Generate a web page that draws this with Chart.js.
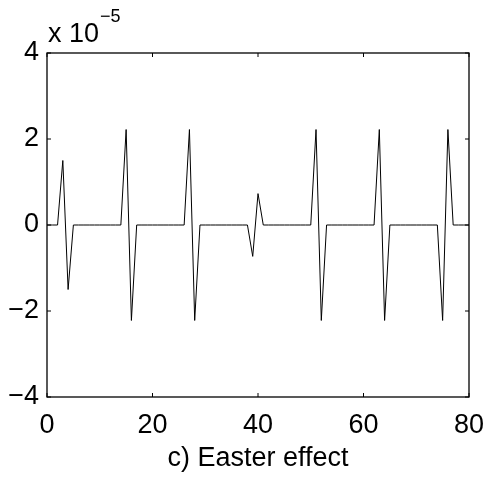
<!DOCTYPE html>
<html>
<head>
<meta charset="utf-8">
<script src="https://cdn.jsdelivr.net/npm/chart.js@4"></script>
<style>
  html, body { margin: 0; padding: 0; background: #fff; }
  #wrap { width: 487px; height: 481px; position: relative; }
</style>
</head>
<body>
<div id="wrap"><canvas id="easterChart"></canvas></div>
<script>
// Easter effect, monthly, values in units of 10^-5
const easterEffectE5 = [
  0, 0, 0, 1.5, -1.5, 0, 0, 0, 0, 0, 0, 0, 0, 0,
  0, 2.22, -2.22, 0, 0, 0, 0, 0, 0, 0, 0, 0,
  0, 2.22, -2.22, 0, 0, 0, 0, 0, 0, 0, 0, 0,
  0, -0.73, 0.73, 0, 0, 0, 0, 0, 0, 0, 0, 0,
  0, 2.22, -2.22, 0, 0, 0, 0, 0, 0, 0, 0, 0,
  0, 2.22, -2.22, 0, 0, 0, 0, 0, 0, 0, 0, 0,
  0, -2.22, 2.22, 0, 0, 0, 0
];
const xTicks = [0, 20, 40, 60, 80];
const yTicks = [-4, -2, 0, 2, 4];
const xLabel = "c) Easter effect";

const FONT = "'Liberation Sans', Arial, Helvetica, sans-serif";

// MATLAB-like box with inward ticks and the exponent label
const boxPlugin = {
  id: "box",
  afterDraw(chart) {
    const ctx = chart.ctx;
    const a = chart.chartArea;
    const xs = chart.scales.x;
    const ys = chart.scales.y;
    const tl = 4;
    ctx.save();
    ctx.strokeStyle = "#000";
    ctx.lineWidth = 1.3;
    ctx.strokeRect(a.left, a.top, a.right - a.left, a.bottom - a.top);
    ctx.lineWidth = 1;
    ctx.beginPath();
    xTicks.forEach(v => {
      const px = xs.getPixelForValue(v);
      ctx.moveTo(px, a.bottom); ctx.lineTo(px, a.bottom - tl);
      ctx.moveTo(px, a.top); ctx.lineTo(px, a.top + tl);
    });
    yTicks.forEach(v => {
      const py = ys.getPixelForValue(v);
      ctx.moveTo(a.left, py); ctx.lineTo(a.left + tl, py);
      ctx.moveTo(a.right, py); ctx.lineTo(a.right - tl, py);
    });
    ctx.stroke();

    ctx.fillStyle = "#000";
    ctx.textBaseline = "alphabetic";
    ctx.textAlign = "left";
    ctx.font = "27px " + FONT;
    ctx.fillText("x 10", a.left + 1, a.top - 11);
    const w = ctx.measureText("x 10").width;
    ctx.font = "18px " + FONT;
    ctx.fillText("\u22125", a.left + 1 + w + 1, a.top - 31);
    ctx.restore();
  }
};

new Chart(document.getElementById("easterChart"), {
  type: "line",
  data: {
    datasets: [{
      data: easterEffectE5.map((v, i) => ({ x: i, y: v })),
      borderColor: "#000",
      borderWidth: 1,
      pointRadius: 0,
      tension: 0,
      fill: false
    }]
  },
  options: {
    responsive: true,
    maintainAspectRatio: false,
    animation: false,
    events: [],
    layout: { padding: { top: 53, right: 18, left: 0, bottom: 0 } },
    plugins: { legend: { display: false }, tooltip: { enabled: false } },
    scales: {
      x: {
        type: "linear",
        min: 0,
        max: 80,
        afterBuildTicks: s => { s.ticks = xTicks.map(v => ({ value: v })); },
        afterFit: s => { s.height = 84; s.paddingLeft = 0; s.paddingRight = 0; },
        grid: { display: false, drawTicks: false },
        border: { display: false },
        ticks: {
          color: "#000",
          font: { family: FONT, size: 27 },
          padding: 12,
          maxRotation: 0,
          autoSkip: false
        },
        title: {
          display: true,
          text: xLabel,
          color: "#000",
          font: { family: FONT, size: 27 },
          padding: { top: 0, bottom: 6 }
        }
      },
      y: {
        min: -4,
        max: 4,
        afterBuildTicks: s => { s.ticks = yTicks.map(v => ({ value: v })); },
        afterFit: s => { s.width = 47; s.paddingTop = 0; s.paddingBottom = 0; },
        grid: { display: false, drawTicks: false },
        border: { display: false },
        ticks: {
          color: "#000",
          font: { family: FONT, size: 27 },
          padding: 8,
          callback: v => (v < 0 ? "\u2212" + Math.abs(v) : String(v))
        }
      }
    }
  },
  plugins: [boxPlugin]
});
</script>
</body>
</html>
